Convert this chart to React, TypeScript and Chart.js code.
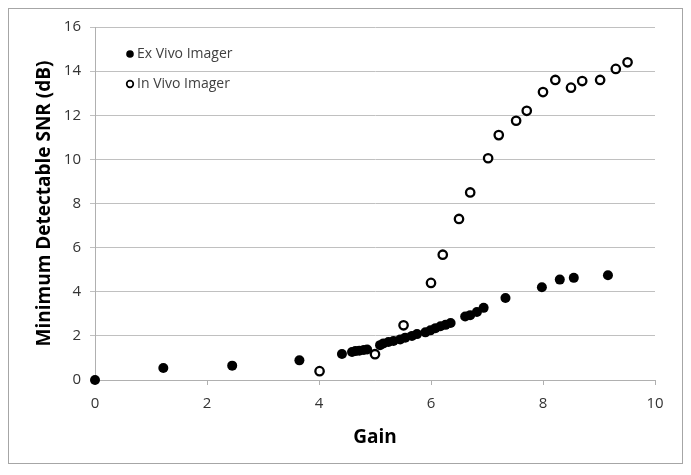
import React, { useEffect, useRef } from "react";
import { Chart, registerables } from "chart.js";

Chart.register(...registerables);

const seriesNames = ["Ex Vivo Imager", "In Vivo Imager"];

const exVivoGain = [0, 1.22, 2.45, 3.65, 4.41, 4.59, 4.65, 4.72, 4.8, 4.86, 5.09, 5.15, 5.24, 5.33, 5.45, 5.54, 5.66, 5.75, 5.9, 5.99, 6.08, 6.17, 6.26, 6.35, 6.61, 6.7, 6.82, 6.94, 7.33, 7.98, 8.3, 8.55, 9.16];
const exVivoSnr = [0, 0.54, 0.65, 0.89, 1.18, 1.27, 1.31, 1.33, 1.36, 1.38, 1.58, 1.66, 1.72, 1.77, 1.84, 1.92, 2.0, 2.08, 2.16, 2.25, 2.35, 2.44, 2.5, 2.58, 2.88, 2.94, 3.08, 3.27, 3.72, 4.2, 4.55, 4.63, 4.75];

const inVivoGain = [4.01, 5.0, 5.51, 6.0, 6.21, 6.5, 6.7, 7.02, 7.21, 7.52, 7.71, 8.0, 8.22, 8.5, 8.7, 9.02, 9.3, 9.51];
const inVivoSnr = [0.4, 1.17, 2.48, 4.4, 5.68, 7.3, 8.5, 10.05, 11.1, 11.75, 12.2, 13.05, 13.6, 13.25, 13.55, 13.6, 14.1, 14.4];

const xAxisTitle = "Gain";
const yAxisTitle = "Minimum Detectable SNR (dB)";
const xMin = 0, xMax = 10, xStep = 2;
const yMin = 0, yMax = 16, yStep = 2;

const FONT = "'Open Sans', 'DejaVu Sans', sans-serif";

const insideLegend = {
  id: "insideLegend",
  afterDraw(chart: any) {
    const { ctx, chartArea } = chart;
    ctx.save();
    const mx = chartArea.left + 35;
    const rows = [chartArea.top + 27, chartArea.top + 57];
    ctx.font = `14px ${FONT}`;
    ctx.textBaseline = "middle";
    ctx.textAlign = "left";
    ctx.beginPath();
    ctx.arc(mx, rows[0], 3.8, 0, Math.PI * 2);
    ctx.fillStyle = "#000";
    ctx.fill();
    ctx.beginPath();
    ctx.arc(mx, rows[1], 3.3, 0, Math.PI * 2);
    ctx.lineWidth = 1.7;
    ctx.strokeStyle = "#000";
    ctx.stroke();
    ctx.fillStyle = "#404040";
    ctx.fillText(seriesNames[0], mx + 7, rows[0]);
    ctx.fillText(seriesNames[1], mx + 7, rows[1]);
    ctx.restore();
  },
};

export default function App() {
  const canvasRef = useRef<HTMLCanvasElement | null>(null);

  useEffect(() => {
    if (!canvasRef.current) return;
    const exData = exVivoGain.map((g, i) => ({ x: g, y: exVivoSnr[i] }));
    const inData = inVivoGain.map((g, i) => ({ x: g, y: inVivoSnr[i] }));
    const chart = new Chart(canvasRef.current, {
      type: "scatter",
      data: {
        datasets: [
          {
            label: seriesNames[1],
            data: inData,
            pointRadius: 4.2,
            pointHoverRadius: 4.2,
            pointBorderWidth: 2.3,
            borderColor: "#000",
            backgroundColor: "#fff",
            clip: false as any,
          },
          {
            label: seriesNames[0],
            data: exData,
            pointRadius: 5,
            pointHoverRadius: 5,
            pointBorderWidth: 0,
            borderColor: "#000",
            backgroundColor: "#000",
            clip: false as any,
          },
        ],
      },
      options: {
        animation: false,
        responsive: true,
        maintainAspectRatio: false,
        layout: { padding: { left: 0, right: 27, top: 16, bottom: 0 } },
        plugins: {
          legend: { display: false },
          tooltip: { enabled: false },
        },
        scales: {
          x: {
            type: "linear",
            min: xMin,
            max: xMax,
            ticks: {
              stepSize: xStep,
              padding: 10,
              color: "#333",
              font: { family: FONT, size: 15 },
            },
            grid: {
              drawOnChartArea: false,
              drawTicks: true,
              tickLength: 5,
              color: "#b0b0b0",
            },
            border: { display: true, color: "#b0b0b0" },
            title: {
              display: true,
              text: xAxisTitle,
              color: "#000",
              font: { family: FONT, size: 19, weight: "bold" },
              padding: { top: 0, bottom: 14 },
            },
            afterFit(scale: any) {
              scale.height = 83;
            },
          },
          y: {
            type: "linear",
            min: yMin,
            max: yMax,
            ticks: {
              stepSize: yStep,
              padding: 9,
              color: "#333",
              font: { family: FONT, size: 15 },
            },
            grid: {
              color: "#c0c0c0",
              tickLength: 5,
            },
            border: { display: true, color: "#b0b0b0" },
            title: {
              display: true,
              text: yAxisTitle,
              color: "#000",
              font: { family: FONT, size: 19, weight: "bold" },
              padding: { top: 24, bottom: 0 },
            },
            afterFit(scale: any) {
              scale.width = 86;
            },
          },
        },
      },
      plugins: [insideLegend],
    });
    return () => chart.destroy();
  }, []);

  return (
    <div
      style={{
        position: "relative",
        width: 673,
        height: 454,
        border: "1px solid #a6a6a6",
        boxShadow: "1px 1px 1px #d0d0d0",
        background: "#fff",
      }}
    >
      <canvas ref={canvasRef} />
    </div>
  );
}
